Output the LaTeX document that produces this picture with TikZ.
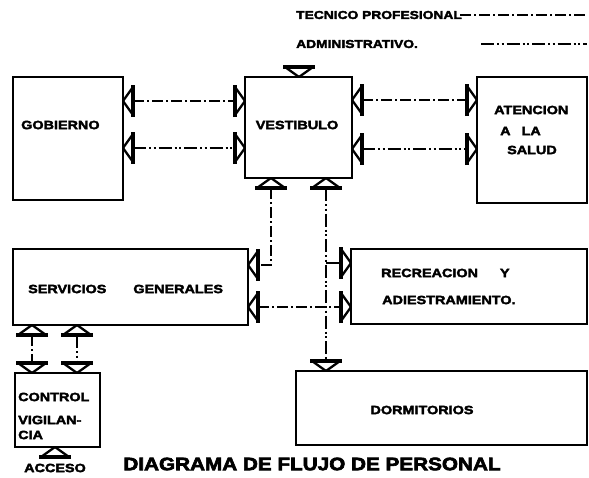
\documentclass[tikz,border=0pt]{standalone}
\usepackage{fontspec}
\usetikzlibrary{calc}
\newfontfamily\heavy{Liberation Sans}[UprightFont=* Bold, FakeStretch=1.2, FakeBold=3]
\newfontfamily\heavyT{Liberation Sans}[UprightFont=* Bold, FakeStretch=1.15, FakeBold=3.5]
\tikzset{
  box/.style={draw, line width=2.8pt, inner sep=0pt, outer sep=0pt, anchor=north west},
  lbl/.style={font=\heavy\fontsize{12}{12}\selectfont, inner sep=0pt, anchor=west},
  leg/.style={font=\heavy\fontsize{11.5}{11.5}\selectfont, inner sep=0pt, anchor=west},
  tec/.style={line width=2.1pt, dash pattern=on 11pt off 3pt on 2pt off 3pt},
  adm/.style={line width=2.1pt, dash pattern=on 13pt off 3pt on 2pt off 2.5pt on 2pt off 3pt},
  port/.pic={
    \draw[line width=2.3pt, line join=round] (10,-14) -- (0,0) -- (10,14);
    \draw[line width=3.4pt] (10,-16) -- (10,16);
    \coordinate (-b) at (10,0);
  }
}
\begin{document}
\begin{tikzpicture}[x=1pt, y=-1pt]
\useasboundingbox (0,0) rectangle (589,477);

% legend
\node[leg] (legt) at (296,15) {TECNICO PROFESIONAL};
\node[leg] (lega) at (296,44) {ADMINISTRATIVO.};
\coordinate (lt1) at (460,15); \coordinate (lt2) at (587,15);
\coordinate (la1) at (481,44); \coordinate (la2) at (587,44);
\draw[tec] (lt1) -- (lt2);
\draw[adm] (la1) -- (la2);

% boxes
\node[box, minimum width=110pt, minimum height=123pt] (gob) at (13,77) {};
\node[box, minimum width=107pt, minimum height=101pt] (vest) at (245,77) {};
\node[box, minimum width=110pt, minimum height=126pt] (aten) at (477,77) {};
\node[box, minimum width=235pt, minimum height=76pt] (serv) at (13,249) {};
\node[box, minimum width=236pt, minimum height=75pt] (rec) at (351,249) {};
\node[box, minimum width=291pt, minimum height=74pt] (dorm) at (296,371) {};
\node[box, minimum width=85pt, minimum height=74pt] (ctrl) at (15,373) {};

% labels
\node[lbl] (tgob) at (21,125) {GOBIERNO};
\node[lbl, anchor=center] (tvest) at (297,125) {VESTIBULO};
\node[lbl] (tat1) at (494,110) {ATENCION};
\node[lbl] (tat2) at (500,131) {A\hspace{11pt}LA};
\node[lbl] (tat3) at (507,150) {SALUD};
\node[lbl] (tserv) at (28,289) {SERVICIOS\hspace{27pt}GENERALES};
\node[lbl] (trec1) at (381,273) {RECREACION\hspace{22pt}Y};
\node[lbl] (trec2) at (382,300) {ADIESTRAMIENTO.};
\node[lbl, anchor=center] (tdorm) at (422,410) {DORMITORIOS};
\node[lbl] (tc1) at (18,397) {CONTROL};
\node[lbl] (tc2) at (18,420) {VIGILAN-};
\node[lbl] (tc3) at (18,435) {CIA};
\node[lbl, anchor=center] (tacc) at (55,468) {ACCESO};
\node[font=\heavyT\fontsize{18}{18}\selectfont, inner sep=0pt] (title) at (312,464) {DIAGRAMA DE FLUJO DE PERSONAL};

% ports
\pic (gp1) [rotate=0] at ($(gob.north east)+(0,24)$) {port};
\pic (gp2) [rotate=0] at ($(gob.north east)+(0,71)$) {port};
\pic (vw1) [rotate=180] at ($(vest.north west)+(0,24)$) {port};
\pic (vw2) [rotate=180] at ($(vest.north west)+(0,71)$) {port};
\pic (ve1) [rotate=0] at ($(vest.north east)+(0,23)$) {port};
\pic (ve2) [rotate=0] at ($(vest.north east)+(0,72)$) {port};
\pic (aw1) [rotate=180] at ($(aten.north west)+(0,23)$) {port};
\pic (aw2) [rotate=180] at ($(aten.north west)+(0,72)$) {port};
\pic (vt) [rotate=90] at ($(vest.north west)+(54,0)$) {port};
\pic (vb1) [rotate=-90] at ($(vest.south west)+(26,0)$) {port};
\pic (vb2) [rotate=-90] at ($(vest.south west)+(81,0)$) {port};
\pic (se1) [rotate=0] at ($(serv.north east)+(0,16)$) {port};
\pic (se2) [rotate=0] at ($(serv.north east)+(0,58)$) {port};
\pic (rw1) [rotate=180] at ($(rec.north west)+(0,14)$) {port};
\pic (rw2) [rotate=180] at ($(rec.north west)+(0,58)$) {port};
\pic (dt) [rotate=90] at ($(dorm.north west)+(30,0)$) {port};
\pic (sb1) [rotate=-90] at ($(serv.south west)+(19,0)$) {port};
\pic (sb2) [rotate=-90] at ($(serv.south west)+(64,0)$) {port};
\pic (ct1) [rotate=90] at ($(ctrl.north west)+(17,0)$) {port};
\pic (ct2) [rotate=90] at ($(ctrl.north west)+(62,0)$) {port};
\pic (cb) [rotate=-90] at ($(ctrl.south west)+(40,0)$) {port};

% connectors
\draw[tec] (gp1-b) -- (vw1-b);
\draw[adm] (gp2-b) -- (vw2-b);
\draw[tec] (ve1-b) -- (aw1-b);
\draw[adm] (ve2-b) -- (aw2-b);
\draw[tec] (vb1-b) |- (se1-b);
\draw[adm] (vb2-b) -- (dt-b);
\draw[adm] (vb2-b |- rw1-b) -- (rw1-b);
\draw[tec] (se2-b) -- (rw2-b);
\draw[tec] (sb1-b) -- (ct1-b);
\draw[adm] (sb2-b) -- (ct2-b);
\end{tikzpicture}
\end{document}
